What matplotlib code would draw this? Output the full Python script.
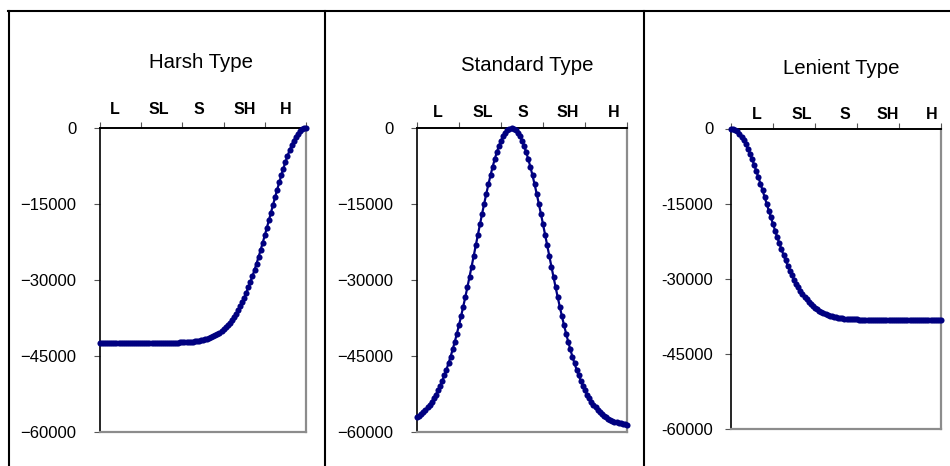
import matplotlib
matplotlib.use("Agg")
import matplotlib.pyplot as plt
from matplotlib.lines import Line2D
from matplotlib.ticker import FixedLocator, FuncFormatter
import numpy as np

plt.rcParams['font.family'] = ['Liberation Sans', 'DejaVu Sans']

# category labels on the top axis
categories = ["L", "SL", "S", "SH", "H"]
y_ticks = [0, -15000, -30000, -45000, -60000]
titles = ["Harsh Type", "Standard Type", "Lenient Type"]

# curves, 101 samples each
harsh = [
    -42400, -42400, -42400, -42400, -42400, -42400, -42400, -42400, -42400, -42400,
    -42400, -42400, -42400, -42400, -42400, -42400, -42400, -42400, -42400, -42400,
    -42400, -42400, -42400, -42400, -42400, -42400, -42400, -42400, -42400, -42400,
    -42400, -42400, -42400, -42400, -42400, -42370, -42360, -42360, -42350, -42330,
    -42320, -42300, -42270, -42250, -42210, -42170, -42130, -42070, -42010, -41930,
    -41840, -41730, -41610, -41470, -41310, -41120, -40910, -40670, -40400, -40090,
    -39740, -39350, -38910, -38430, -37900, -37310, -36660, -35960, -35190, -34360,
    -33460, -32500, -31480, -30390, -29230, -28020, -26750, -25420, -24050, -22630,
    -21180, -19700, -18190, -16680, -15170, -13670, -12190, -10750, -9350, -8010,
    -6740, -5540, -4440, -3450, -2560, -1790, -1160, -660, -290, -70,
    0,
]

standard = [
    -57080, -56780, -56450, -56070, -55640, -55160, -54610, -54010, -53340, -52600,
    -51780, -50890, -49910, -48840, -47690, -46450, -45120, -43690, -42180, -40580,
    -38890, -37130, -35280, -33380, -31410, -29390, -27340, -25250, -23160, -21060,
    -18980, -16920, -14920, -12980, -11120, -9350, -7700, -6170, -4780, -3550,
    -2490, -1610, -910, -410, -100, 0, -100, -410, -910, -1610,
    -2490, -3550, -4780, -6170, -7700, -9350, -11120, -12980, -14920, -16920,
    -18980, -21060, -23160, -25250, -27340, -29390, -31410, -33380, -35280, -37130,
    -38890, -40580, -42180, -43690, -45120, -46450, -47690, -48840, -49910, -50890,
    -51780, -52600, -53340, -54010, -54610, -55160, -55640, -56070, -56450, -56780,
    -57080, -57340, -57560, -57760, -57930, -58070, -58200, -58300, -58390, -58470,
    -58540,
]

lenient = [
    0, -70, -260, -590, -1040, -1620, -2310, -3110, -4000, -5000,
    -6070, -7210, -8420, -9680, -10990, -12320, -13670, -15030, -16390, -17740,
    -19080, -20390, -21670, -22900, -24100, -25240, -26340, -27380, -28360, -29280,
    -30150, -30960, -31700, -32390, -33030, -33610, -34140, -34620, -35060, -35450,
    -35800, -36120, -36390, -36640, -36860, -37050, -37220, -37360, -37490, -37600,
    -37700, -37780, -37850, -37900, -37950, -38000, -38030, -38060, -38090, -38110,
    -38130, -38140, -38150, -38160, -38170, -38170, -38180, -38180, -38190, -38190,
    -38200, -38200, -38200, -38200, -38200, -38200, -38200, -38200, -38200, -38200,
    -38200, -38200, -38200, -38200, -38200, -38200, -38200, -38200, -38200, -38200,
    -38200, -38200, -38200, -38200, -38200, -38200, -38200, -38200, -38200, -38200,
    -38200,
]

W, H = 950, 466
fig = plt.figure(figsize=(W / 100, H / 100), dpi=100)


def px_rect(left, top, right, bottom):
    return [left / W, 1 - bottom / H, (right - left) / W, (bottom - top) / H]


# per panel layout: axes box (px), label x positions (sample units), pads, title pos
panels = [
    dict(data=harsh, box=(100, 128, 306, 432), cat_x=[7.3, 28.6, 48, 70.4, 90.3],
         cat_pad=7.7, y_pad=13, minus="\u2212", title_xy=(200.7, 68.3)),
    dict(data=standard, box=(417, 128, 627, 432), cat_x=[10, 31.4, 50.5, 71.9, 93.8],
         cat_pad=6.0, y_pad=13, minus="\u2212", title_xy=(527, 70.7)),
    dict(data=lenient, box=(731, 128.5, 941, 429), cat_x=[12.4, 33.8, 54.3, 74.8, 95.7],
         cat_pad=4.8, y_pad=8.6, minus="-", title_xy=(841.7, 74)),
]

for p, title in zip(panels, titles):
    ax = fig.add_axes(px_rect(*p["box"]))
    x = np.arange(len(p["data"]))
    ax.plot(x, p["data"], color="#000080", lw=1.6, marker="o", ms=4.4, mew=0,
            clip_on=False, zorder=3)
    ax.set_xlim(0, len(p["data"]) - 1)
    ax.set_ylim(-60000, 0)

    ax.xaxis.tick_top()
    ax.set_xticks(p["cat_x"])
    ax.set_xticklabels(categories, fontsize=11.5, fontweight="bold")
    ax.xaxis.set_minor_locator(FixedLocator([0, 20, 40, 60, 80, 100]))
    ax.tick_params(axis="x", which="major", length=0, pad=p["cat_pad"])
    ax.tick_params(axis="x", which="minor", length=4, width=0.8, color="#555555", direction="out")

    ax.set_yticks(y_ticks)
    minus = p["minus"]
    ax.yaxis.set_major_formatter(FuncFormatter(
        lambda v, pos, m=minus: ("%d" % v).replace("-", m)))
    ax.tick_params(axis="y", length=4, width=0.8, color="#555555", direction="out",
                   pad=p["y_pad"], labelsize=12)

    ax.spines["left"].set_color("black")
    ax.spines["top"].set_color("black")
    ax.spines["left"].set_linewidth(1.2)
    ax.spines["top"].set_linewidth(1.4)
    ax.spines["right"].set_color("#8c8c8c")
    ax.spines["bottom"].set_color("#8c8c8c")
    ax.spines["right"].set_linewidth(1.6)
    ax.spines["bottom"].set_linewidth(1.6)

    tx, ty = p["title_xy"]
    fig.text(tx / W, 1 - ty / H, title, ha="center", va="baseline", fontsize=14.7)

# frame lines around the panels
frame_lw = 1.5
fig.add_artist(Line2D([8 / W, 1], [1 - 10.5 / H, 1 - 10.5 / H], color="black", lw=frame_lw))
for xp in [9, 325, 643.5]:
    fig.add_artist(Line2D([xp / W, xp / W], [0, 1 - 10.5 / H], color="black", lw=frame_lw))

fig.savefig("out.png", dpi=100)
